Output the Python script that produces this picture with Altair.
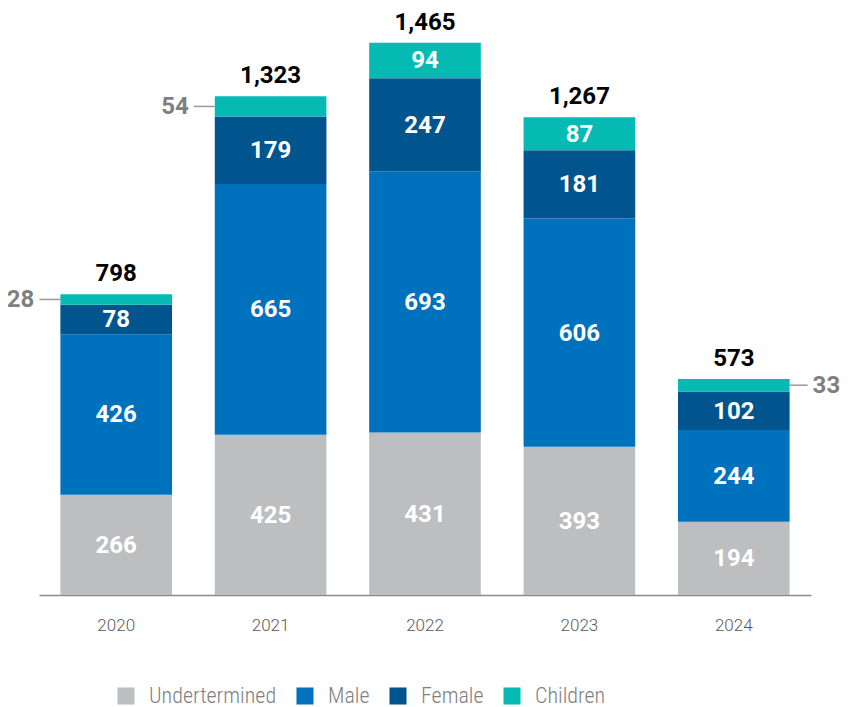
import altair as alt
import pandas as pd

years = ["2020", "2021", "2022", "2023", "2024"]
categories = ["Undertermined", "Male", "Female", "Children"]
undetermined = [266, 425, 431, 393, 194]
male = [426, 665, 693, 606, 244]
female = [78, 179, 247, 181, 102]
children = [28, 54, 94, 87, 33]
colors = ["#BCBEC0", "#0071BC", "#00558F", "#06BAB4"]

series = [undetermined, male, female, children]
rows = []
for ci, (cat, vals) in enumerate(zip(categories, series)):
    for y, v in zip(years, vals):
        rows.append({"year": y, "category": cat, "value": v, "order": ci})
df = pd.DataFrame(rows)

FONT = "Roboto"
NARROW = "'Roboto Condensed', 'Liberation Sans Narrow', 'Arial Narrow', Roboto"
yscale = alt.Scale(domain=[0, 1520], nice=False, zero=True)
xenc = alt.X(
    "year:N",
    sort=years,
    title=None,
    scale=alt.Scale(paddingInner=0.277, paddingOuter=0.1385),
    axis=alt.Axis(labelAngle=0, ticks=False, labelPadding=22, labelFontSize=17,
                  labelFont=FONT, labelFontWeight=300, labelColor="#5a5a5a",
                  domainColor="#8a8a8a", domainWidth=1.5),
)

base = alt.Chart(df).transform_stack(
    stack="value", groupby=["year"], sort=[alt.SortField("order")], as_=["y0", "y1"]
).transform_calculate(mid="(datum.y0 + datum.y1) / 2")

bars = base.mark_bar().encode(
    x=xenc,
    y=alt.Y("y0:Q", scale=yscale, axis=None),
    y2="y1:Q",
    color=alt.Color(
        "category:N",
        scale=alt.Scale(domain=categories, range=colors),
        legend=alt.Legend(
            title=None, orient="none", legendX=76, legendY=663, direction="horizontal",
            symbolType="square", symbolSize=290, symbolStrokeWidth=0, padding=0,
            labelFontSize=22, labelFont=NARROW, labelColor="#808080",
            labelOffset=12, columnPadding=17, labelFontWeight=300,
        ),
    ),
)

inside = base.transform_filter(
    "datum.category != 'Children' || datum.value >= 60"
).mark_text(color="white", font=FONT, fontWeight="bold", fontSize=24, baseline="middle", dy=1).encode(
    x=alt.X("year:N", sort=years),
    y=alt.Y("mid:Q", scale=yscale),
    text="value:Q",
)

small = base.transform_filter("datum.category == 'Children' && datum.value < 60")
left = small.transform_filter("datum.year != '2024'")
right = small.transform_filter("datum.year == '2024'")

left_rule = left.mark_rule(color="#9a9a9a", strokeWidth=1.5, xOffset=-21, x2Offset=0).encode(
    x=alt.X("year:N", sort=years, bandPosition=0),
    x2=alt.X2("year:N", bandPosition=0),
    y=alt.Y("mid:Q", scale=yscale),
)
left_text = left.mark_text(color="#7f7f7f", font=FONT, fontWeight="bold", fontSize=24,
                           align="right", baseline="middle", dx=-26, dy=1).encode(
    x=alt.X("year:N", sort=years, bandPosition=0),
    y=alt.Y("mid:Q", scale=yscale),
    text="value:Q",
)
right_rule = right.mark_rule(color="#9a9a9a", strokeWidth=1.5, xOffset=0, x2Offset=18).encode(
    x=alt.X("year:N", sort=years, bandPosition=1),
    x2=alt.X2("year:N", bandPosition=1),
    y=alt.Y("mid:Q", scale=yscale),
)
right_text = right.mark_text(color="#7f7f7f", font=FONT, fontWeight="bold", fontSize=24,
                             align="left", baseline="middle", dx=23, dy=1).encode(
    x=alt.X("year:N", sort=years, bandPosition=1),
    y=alt.Y("mid:Q", scale=yscale),
    text="value:Q",
)

totals = alt.Chart(df).transform_aggregate(
    total="sum(value)", groupby=["year"]
).mark_text(color="black", font=FONT, fontWeight="bold", fontSize=24, baseline="middle", dy=-20).encode(
    x=alt.X("year:N", sort=years),
    y=alt.Y("total:Q", scale=yscale),
    text=alt.Text("total:Q", format=","),
)

chart = alt.layer(bars, inside, left_rule, left_text, right_rule, right_text, totals).properties(
    width=772, height=573,
    autosize=alt.AutoSizeParams(type="none"),
    padding={"left": 31, "top": 14, "right": 31, "bottom": 112},
).configure_view(stroke=None)

chart.save("out.html", embed_options={"renderer": "svg", "actions": False})
